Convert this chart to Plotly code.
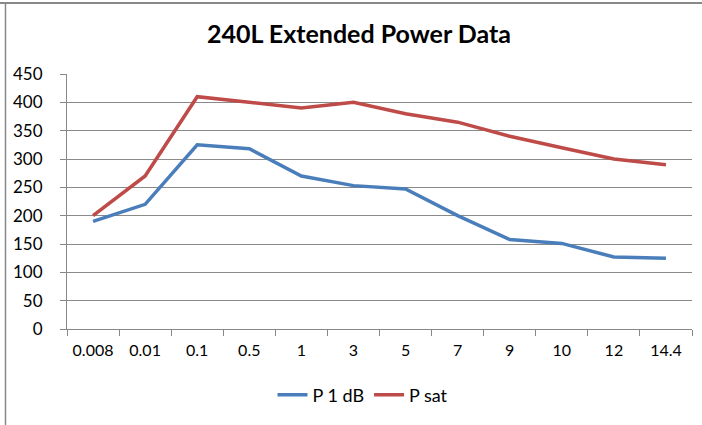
import plotly.graph_objects as go

categories = ["0.008", "0.01", "0.1", "0.5", "1", "3", "5", "7", "9", "10", "12", "14.4"]
p1db = [190, 220, 325, 318, 270, 253, 247, 200, 158, 151, 127, 125]
psat = [200, 270, 410, 400, 390, 400, 380, 365, 340, 320, 300, 290]

FONT = "Lato"
W, H = 702, 425
L, R, T, B = 67, 10, 74, 96
PW, PH = W - L - R, H - T - B


def px_x(x):
    return (x - L) / PW


def px_y(y):
    return (H - B - y) / PH


fig = go.Figure()
fig.add_trace(go.Scatter(x=categories, y=p1db, mode="lines", name="P 1 dB",
                         line=dict(color="#4A7EBB", width=3.5)))
fig.add_trace(go.Scatter(x=categories, y=psat, mode="lines", name="P sat",
                         line=dict(color="#BE4B48", width=3.5)))

fig.update_layout(
    width=W, height=H,
    margin=dict(l=L, r=R, t=T, b=B),
    paper_bgcolor="white", plot_bgcolor="white",
    font=dict(family=FONT, size=16, color="#000000"),
    showlegend=True,
    legend=dict(orientation="h", x=px_x(363), xanchor="center", y=px_y(395), yanchor="middle",
                font=dict(size=18), itemwidth=30, tracegroupgap=0),
    annotations=[dict(text="<b>240L Extended Power Data</b>", xref="paper", yref="paper",
                      x=px_x(359), y=px_y(33), xanchor="center", yanchor="middle",
                      showarrow=False, font=dict(family=FONT, size=25, color="#000"))],
    shapes=[
        dict(type="line", xref="paper", yref="paper", x0=px_x(0), x1=px_x(W), y0=px_y(3), y1=px_y(3),
             line=dict(color="#888", width=2), layer="above"),
        dict(type="line", xref="paper", yref="paper", x0=px_x(5.5), x1=px_x(5.5), y0=px_y(3), y1=px_y(H),
             line=dict(color="#888", width=1.5)),
    ],
)
fig.update_xaxes(type="category", showgrid=False, showline=True, linecolor="#888", linewidth=1,
                 ticks="outside", tickson="boundaries", ticklen=6, tickcolor="#888",
                 tickfont=dict(size=16), tickangle=0, ticklabelstandoff=7, range=[-0.5, 11.5])
fig.update_yaxes(range=[0, 450], dtick=50, showgrid=True, gridcolor="#8a8a8a", gridwidth=1,
                 showline=True, linecolor="#888", ticks="outside", ticklen=6, tickcolor="#888",
                 tickfont=dict(size=17), ticklabelstandoff=14, zeroline=False)

fig.write_html("out.html", config={"displayModeBar": False},
               post_script="document.body.style.margin='0';document.body.style.overflow='hidden';")
